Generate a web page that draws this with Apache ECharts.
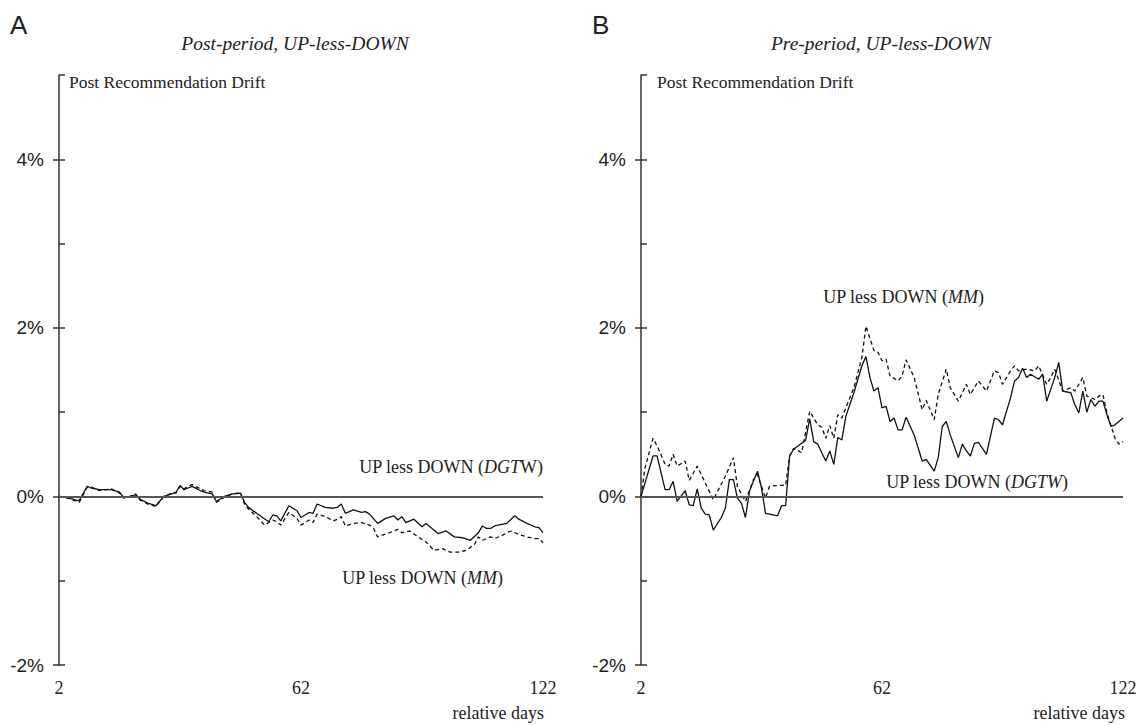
<!DOCTYPE html>
<html>
<head>
<meta charset="utf-8">
<script src="https://cdn.jsdelivr.net/npm/echarts@6/dist/echarts.min.js"></script>
<style>
  html, body { margin: 0; padding: 0; background: #fff; }
  #chart { width: 1145px; height: 725px; }
</style>
</head>
<body>
<div id="chart"></div>
<script>
///////////////////////////////////////////////////
// Data (relative day, drift in %)
///////////////////////////////////////////////////

const xTicks = [2, 62, 122];
const yLabelTicks = [-2, 0, 2, 4];
const yMinorTicks = [-2, -1, 0, 1, 2, 3, 4, 5];

// Panel A - post-period
const postDgtw = [
  [2, 0], [4, -0.01], [6, -0.04], [7, -0.05], [9, 0.12], [10, 0.10], [12, 0.08], [15, 0.08],
  [17, 0.05], [18, -0.01], [19, -0.01], [21, 0.02], [22, -0.03], [24, -0.08], [26, -0.11],
  [28, 0.0], [30, 0.03], [31, 0.05], [32, 0.13], [33, 0.08], [34, 0.10], [35, 0.12], [37, 0.07],
  [38, 0.05], [40, 0.03], [41, -0.06], [43, 0.0], [45, 0.03], [47, 0.04], [48, -0.07], [49, -0.13],
  [51, -0.20], [54, -0.30], [55, -0.22], [56, -0.23], [57, -0.29], [59, -0.11], [61, -0.17],
  [62, -0.25], [64, -0.19], [65, -0.20], [66, -0.09], [68, -0.13], [70, -0.14], [71, -0.13],
  [72, -0.09], [73, -0.20], [75, -0.16], [77, -0.19], [78, -0.18], [79, -0.21], [81, -0.32],
  [83, -0.26], [85, -0.23], [86, -0.28], [87, -0.24], [88, -0.31], [90, -0.27], [92, -0.36],
  [93, -0.32], [96, -0.44], [98, -0.41], [100, -0.48], [102, -0.49], [104, -0.52], [106, -0.43],
  [107, -0.35], [108, -0.38], [109, -0.38], [110, -0.35], [113, -0.32], [115, -0.23], [116, -0.27],
  [118, -0.32], [120, -0.36], [121, -0.37], [122, -0.43]
];
const postMm = [
  [2, 0], [4, -0.02], [6, -0.05], [7, -0.07], [9, 0.11], [10, 0.11], [12, 0.07], [15, 0.09],
  [17, 0.04], [18, -0.02], [19, -0.01], [21, 0.03], [22, -0.04], [24, -0.09], [26, -0.12],
  [28, 0.0], [30, 0.04], [31, 0.04], [32, 0.12], [33, 0.09], [34, 0.12], [35, 0.14], [37, 0.09],
  [38, 0.07], [40, 0.05], [41, -0.07], [43, -0.01], [45, 0.03], [47, 0.04], [48, -0.09], [49, -0.15],
  [51, -0.24], [53, -0.34], [55, -0.28], [56, -0.30], [57, -0.34], [59, -0.19], [61, -0.26],
  [62, -0.34], [64, -0.28], [65, -0.31], [66, -0.21], [68, -0.24], [70, -0.29], [71, -0.27],
  [72, -0.24], [73, -0.35], [75, -0.32], [77, -0.31], [79, -0.34], [80, -0.38], [81, -0.48],
  [84, -0.43], [86, -0.39], [87, -0.43], [89, -0.41], [91, -0.48], [93, -0.54], [95, -0.64],
  [97, -0.62], [99, -0.66], [101, -0.66], [103, -0.64], [105, -0.57], [106, -0.48], [107, -0.52],
  [109, -0.48], [110, -0.50], [112, -0.46], [114, -0.41], [116, -0.45], [118, -0.48], [120, -0.50],
  [121, -0.50], [122, -0.55]
];

// Panel B - pre-period
const preDgtw = [
  [2, 0], [5, 0.48], [6, 0.48], [8, 0.08], [9, 0.08], [10, 0.18], [11, -0.06], [13, 0.07],
  [14, -0.10], [15, -0.11], [16, 0.09], [17, -0.14], [18, -0.21], [19, -0.22], [20, -0.40],
  [22, -0.25], [23, -0.14], [24, 0.20], [25, 0.20], [26, -0.02], [27, -0.08], [28, -0.25],
  [29, 0.06], [31, 0.30], [32, 0.10], [33, -0.20], [34, -0.21], [36, -0.23], [37, -0.11],
  [38, -0.11], [39, 0.48], [40, 0.56], [42, 0.63], [43, 0.67], [44, 0.92], [45, 0.65], [46, 0.62],
  [48, 0.42], [49, 0.54], [50, 0.38], [51, 0.70], [52, 0.67], [53, 0.95], [55, 1.23], [57, 1.55],
  [58, 1.66], [59, 1.41], [60, 1.25], [61, 1.29], [62, 1.05], [63, 1.07], [64, 0.89], [65, 0.93],
  [66, 0.79], [67, 0.79], [68, 0.94], [70, 0.73], [72, 0.42], [73, 0.44], [75, 0.30], [76, 0.46],
  [77, 0.83], [78, 0.89], [79, 0.73], [81, 0.46], [82, 0.62], [83, 0.54], [84, 0.48], [85, 0.63],
  [86, 0.64], [88, 0.50], [90, 0.93], [91, 0.91], [92, 0.85], [94, 1.17], [95, 1.37], [96, 1.41],
  [97, 1.52], [98, 1.41], [99, 1.45], [101, 1.39], [102, 1.45], [103, 1.13], [105, 1.41],
  [106, 1.59], [107, 1.25], [109, 1.23], [110, 1.09], [111, 0.99], [112, 1.25], [113, 1.00],
  [114, 1.15], [115, 1.07], [116, 1.13], [117, 1.13], [118, 0.97], [119, 0.83], [120, 0.85],
  [122, 0.93]
];
const preMm = [
  [2, 0], [3, 0.34], [5, 0.69], [6, 0.60], [8, 0.38], [9, 0.36], [10, 0.50], [11, 0.36],
  [13, 0.42], [14, 0.19], [16, 0.36], [20, -0.04], [23, 0.24], [25, 0.46], [26, 0.12],
  [28, -0.06], [30, 0.20], [31, 0.26], [33, -0.02], [34, 0.12], [36, 0.13], [38, 0.13],
  [39, 0.48], [40, 0.57], [42, 0.52], [44, 1.01], [46, 0.85], [47, 0.82], [48, 0.69], [49, 0.84],
  [50, 0.69], [51, 0.97], [52, 0.93], [53, 1.05], [55, 1.29], [57, 1.65], [58, 2.02], [60, 1.73],
  [61, 1.71], [62, 1.61], [63, 1.63], [64, 1.43], [66, 1.37], [67, 1.43], [68, 1.62], [70, 1.41],
  [72, 1.03], [73, 1.14], [75, 0.91], [76, 1.21], [78, 1.51], [79, 1.29], [81, 1.13], [82, 1.23],
  [83, 1.33], [84, 1.21], [85, 1.29], [86, 1.37], [88, 1.25], [90, 1.49], [91, 1.47], [92, 1.33],
  [94, 1.49], [95, 1.55], [96, 1.49], [98, 1.51], [100, 1.49], [101, 1.55], [103, 1.33],
  [104, 1.41], [105, 1.51], [107, 1.25], [109, 1.29], [110, 1.25], [112, 1.41], [113, 1.19],
  [115, 1.15], [116, 1.19], [117, 1.21], [118, 0.99], [120, 0.69], [121, 0.62], [122, 0.65]
];

///////////////////////////////////////////////////
// Chart
///////////////////////////////////////////////////
const serif = '"Liberation Serif", "Times New Roman", serif';
const sans = '"Liberation Sans", Arial, sans-serif';
const ink = '#222';

const grids = [
  { left: 59, top: 75, width: 484, height: 590 },
  { left: 641, top: 75, width: 482, height: 590 }
];

const makeX = (gridIndex) => ({
  type: 'value', gridIndex, min: 2, max: 122, interval: 60,
  axisLine: { show: false }, axisTick: { show: false }, splitLine: { show: false },
  axisLabel: {
    customValues: xTicks, margin: 14,
    fontFamily: serif, fontSize: 18, color: ink
  }
});

// major ticks crossing outward + labels
const makeYMajor = (gridIndex) => ({
  type: 'value', gridIndex, min: -2, max: 5, interval: 1, position: 'left',
  axisLine: { show: true, lineStyle: { color: '#333', width: 1.5 } },
  axisTick: { show: true, customValues: yLabelTicks, length: 6, lineStyle: { color: '#333', width: 1.5 } },
  splitLine: { show: false },
  axisLabel: {
    customValues: yLabelTicks, margin: 15,
    formatter: (v) => v + '%', fontFamily: sans, fontSize: 19, color: ink
  }
});

// minor / inner ticks
const makeYMinor = (gridIndex) => ({
  type: 'value', gridIndex, min: -2, max: 5, interval: 1, position: 'left',
  axisLine: { show: false },
  axisTick: { show: true, inside: true, customValues: yMinorTicks, length: 6, lineStyle: { color: '#333', width: 1.5 } },
  splitLine: { show: false },
  axisLabel: { show: false }
});

const zeroLine = {
  silent: true, symbol: 'none', label: { show: false },
  lineStyle: { color: '#555', width: 2, type: 'solid' },
  data: [{ yAxis: 0 }]
};

const lineSeries = (data, xi, yi, dashed, withZero) => ({
  type: 'line', data, xAxisIndex: xi, yAxisIndex: yi,
  showSymbol: false, symbol: 'none', silent: true, animation: false,
  lineStyle: { color: '#111', width: 1.3, type: dashed ? [4, 3] : 'solid' },
  markLine: withZero ? zeroLine : undefined
});

const txt = (x, y, text, family, size, style, align) => ({
  type: 'text', x, y, silent: true,
  style: {
    legacy: false, text, fill: ink,
    font: (style || 'normal') + ' ' + size + 'px ' + family,
    align: align || 'left', verticalAlign: 'middle'
  }
});

const noteRich = {
  n: { font: '18px ' + serif, fill: ink },
  i: { font: 'italic 18px ' + serif, fill: ink }
};
const note = (x, y, text) => ({
  type: 'text', x, y, silent: true,
  style: {
    legacy: false, text, fill: ink, font: '18px ' + serif,
    align: 'right', verticalAlign: 'middle', rich: noteRich
  }
});

const chart = echarts.init(document.getElementById('chart'), null, { renderer: 'svg' });
chart.setOption({
  animation: false,
  backgroundColor: '#fff',
  grid: grids,
  xAxis: [makeX(0), makeX(1)],
  yAxis: [makeYMajor(0), makeYMinor(0), makeYMajor(1), makeYMinor(1)],
  series: [
    lineSeries(postMm, 0, 0, true, true),
    lineSeries(postDgtw, 0, 0, false, false),
    lineSeries(preMm, 1, 2, true, true),
    lineSeries(preDgtw, 1, 2, false, false)
  ],
  graphic: [
    txt(10, 25, 'A', sans, 26),
    txt(592, 25, 'B', sans, 26),
    txt(295, 43, 'Post-period, UP-less-DOWN', serif, 19.5, 'italic', 'center'),
    txt(881, 43, 'Pre-period, UP-less-DOWN', serif, 19.5, 'italic', 'center'),
    txt(69, 82, 'Post Recommendation Drift', serif, 17.5),
    txt(657, 82, 'Post Recommendation Drift', serif, 17.5),
    txt(544, 713, 'relative days', serif, 18, 'normal', 'right'),
    txt(1125, 713, 'relative days', serif, 18, 'normal', 'right'),
    // panel A notes
    note(543, 467, '{n|UP less DOWN (}{i|DGT}{n|W)}'),
    note(503, 578, '{n|UP less DOWN (}{i|MM}{n|)}'),
    // panel B notes
    note(984, 297, '{n|UP less DOWN (}{i|MM}{n|)}'),
    note(1068, 482, '{n|UP less DOWN (}{i|DGTW}{n|)}')
  ]
});
</script>
</body>
</html>
